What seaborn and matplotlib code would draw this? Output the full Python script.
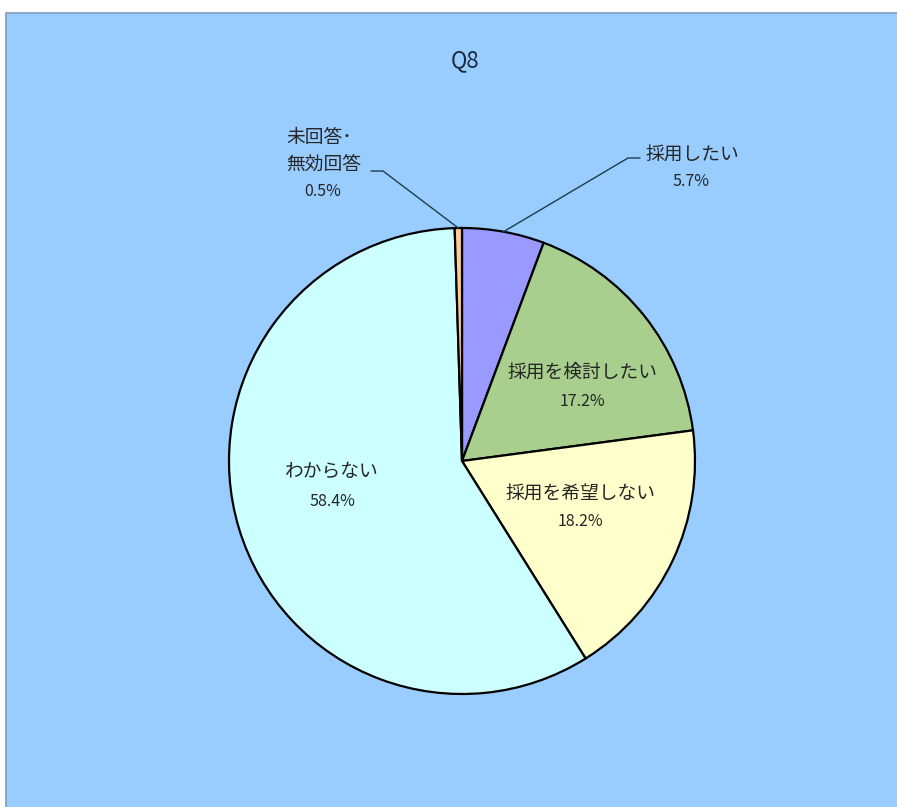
import matplotlib
matplotlib.use("Agg")
import matplotlib.pyplot as plt
from matplotlib.patches import Rectangle
import numpy as np
import seaborn as sns

sns.set_style("white")
plt.rcParams['font.family'] = ['Noto Sans CJK JP', 'DejaVu Sans']

# Survey answers for Q8 (clockwise from 12 o'clock)
categories = ["採用したい", "採用を検討したい", "採用を希望しない", "わからない", "未回答･\n無効回答"]
shares = [5.7, 17.2, 18.2, 58.4, 0.5]
colors = ["#9999FF", "#A8CF8E", "#FFFFCC", "#CCFFFF", "#FFCC99"]
title = "Q8"

W, H = 897, 807
fig = plt.figure(figsize=(W / 100, H / 100), dpi=100, facecolor="white")

ax = fig.add_axes([0, 0, 1, 1])
ax.set_facecolor("none")
R = 233.0          # pie radius in pixels
cx, cy = 462.0, H - 461.0

wedges, _ = ax.pie(shares, colors=colors, startangle=90, counterclock=False,
                   radius=1.0, wedgeprops=dict(edgecolor="black", linewidth=1.6))
ax.set_aspect("auto")
ax.set_xlim(-cx / R, (W - cx) / R)
ax.set_ylim(-cy / R, (H - cy) / R)
ax.axis("off")

# Chart area panel behind the pie
ax.add_patch(Rectangle((6 / W, -0.01), 1.0, 1.01 - 13 / H, transform=fig.transFigure,
                       facecolor="#99CCFF", edgecolor="#7F9DB9", linewidth=1.2,
                       zorder=0, clip_on=False))

ax.text(465 / W, 1 - 61 / H, title, transform=fig.transFigure,
        ha="center", va="center", fontsize=16, color="#1a2a3e")

def px(x, y):
    return ((x - cx) / R, (H - y - cy) / R)

def mid_edge(w, r=1.0):
    ang = np.deg2rad((w.theta1 + w.theta2) / 2)
    return r * np.cos(ang), r * np.sin(ang)

fs = 13.5
pfs = 11.5

# Inside labels
inside = {1: (582, 372, 402), 2: (580, 494, 522), 3: (332, 471, 501)}
for i, (x, y1, y2) in inside.items():
    ax.text(*px(x, y1), categories[i], ha="center", va="center", fontsize=fs)
    ax.text(*px(x, y2), f"{shares[i]}%", ha="center", va="center", fontsize=pfs)

# Outside label with leader: 採用したい
sx, sy = mid_edge(wedges[0])
ex, ey = px(628, 158)
hx, hy = px(640, 158)
ax.plot([sx, ex, hx], [sy, ey, hy], color="#1f3b4d", lw=1.0, zorder=3)
ax.text(*px(692, 154), categories[0], ha="center", va="center", fontsize=fs)
ax.text(*px(691, 182), f"{shares[0]}%", ha="center", va="center", fontsize=pfs)

# Outside label with leader: 未回答・無効回答
sx, sy = mid_edge(wedges[4])
ex, ey = px(383, 171)
hx, hy = px(371, 171)
ax.plot([sx, ex, hx], [sy, ey, hy], color="#1f3b4d", lw=1.0, zorder=3)
l1, l2 = categories[4].split("\n")
ax.text(*px(319, 138), l1, ha="center", va="center", fontsize=fs)
ax.text(*px(324, 164), l2, ha="center", va="center", fontsize=fs)
ax.text(*px(323, 191), f"{shares[4]}%", ha="center", va="center", fontsize=pfs)

fig.savefig("out.png", dpi=100, facecolor=fig.get_facecolor())
